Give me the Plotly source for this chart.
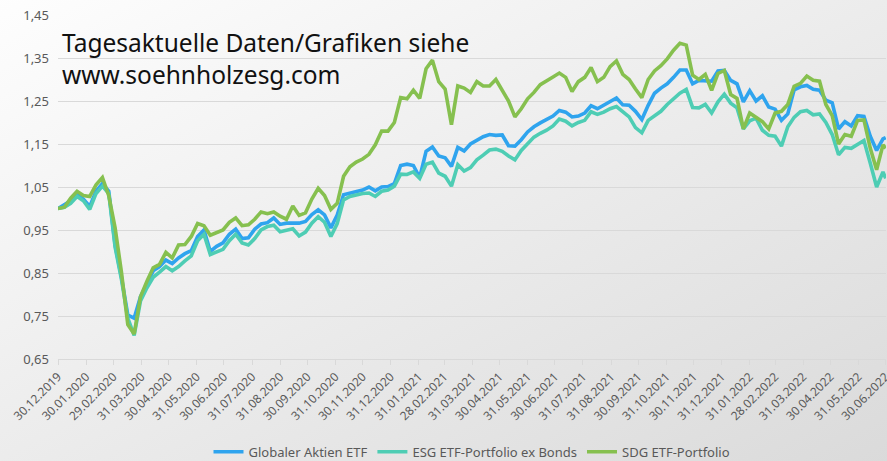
import base64
import pandas as pd
import plotly.graph_objects as go

# ----- data (weekly readings, index 1.00 = 30.12.2019)
dates = list(pd.date_range("2019-12-30", periods=131, freq="7D")) + [pd.Timestamp("2022-06-30")]

globaler_aktien = [
    1.000, 1.008, 1.018, 1.032, 1.022, 1.005, 1.040, 1.058, 1.040, 0.915,
    0.840, 0.752, 0.745, 0.795, 0.825, 0.855, 0.865, 0.880, 0.872, 0.885,
    0.895, 0.902, 0.935, 0.950, 0.900, 0.912, 0.920, 0.940, 0.952, 0.930,
    0.932, 0.952, 0.964, 0.967, 0.978, 0.963, 0.966, 0.965, 0.966, 0.970,
    0.986, 0.997, 0.985, 0.955, 0.985, 1.032, 1.036, 1.041, 1.043, 1.050,
    1.041, 1.050, 1.051, 1.058, 1.100, 1.103, 1.100, 1.072, 1.133, 1.143,
    1.122, 1.118, 1.098, 1.142, 1.134, 1.150, 1.158, 1.167, 1.172, 1.170,
    1.171, 1.146, 1.145, 1.160, 1.178, 1.190, 1.199, 1.207, 1.215, 1.228,
    1.224, 1.213, 1.215, 1.222, 1.239, 1.232, 1.240, 1.250, 1.257, 1.241,
    1.240, 1.226, 1.207, 1.240, 1.268, 1.280, 1.290, 1.305, 1.322, 1.322,
    1.290, 1.298, 1.298, 1.296, 1.320, 1.321, 1.298, 1.290, 1.248, 1.274,
    1.250, 1.262, 1.236, 1.231, 1.205, 1.220, 1.276, 1.283, 1.286, 1.277,
    1.275, 1.252, 1.246, 1.185, 1.202, 1.192, 1.216, 1.214, 1.168, 1.135,
    1.162, 1.165,
]

esg_ex_bonds = [
    1.000, 1.003, 1.012, 1.028, 1.018, 0.998, 1.035, 1.052, 1.035, 0.910,
    0.835, 0.745, 0.705, 0.785, 0.815, 0.840, 0.852, 0.865, 0.855, 0.865,
    0.878, 0.890, 0.925, 0.940, 0.893, 0.900, 0.905, 0.925, 0.940, 0.920,
    0.915, 0.930, 0.950, 0.958, 0.961, 0.946, 0.950, 0.953, 0.936, 0.945,
    0.966, 0.981, 0.968, 0.935, 0.965, 1.020, 1.028, 1.032, 1.035, 1.036,
    1.028, 1.040, 1.043, 1.052, 1.080, 1.079, 1.085, 1.070, 1.103, 1.108,
    1.082, 1.075, 1.052, 1.102, 1.087, 1.095, 1.113, 1.124, 1.136, 1.138,
    1.133, 1.122, 1.113, 1.135, 1.152, 1.166, 1.175, 1.182, 1.192, 1.208,
    1.203, 1.192, 1.200, 1.205, 1.225, 1.219, 1.224, 1.232, 1.237, 1.225,
    1.213, 1.188, 1.176, 1.205, 1.215, 1.226, 1.242, 1.256, 1.268, 1.277,
    1.235, 1.234, 1.242, 1.222, 1.248, 1.266, 1.245, 1.234, 1.185, 1.204,
    1.210, 1.182, 1.170, 1.168, 1.145, 1.190, 1.212, 1.225, 1.228, 1.218,
    1.220, 1.200, 1.172, 1.125, 1.142, 1.140, 1.150, 1.158, 1.105, 1.050,
    1.085, 1.070,
]

sdg_portfolio = [
    1.000, 1.003, 1.024, 1.040, 1.030, 1.028, 1.055, 1.072, 1.030, 0.955,
    0.852, 0.730, 0.708, 0.795, 0.830, 0.862, 0.870, 0.898, 0.885, 0.915,
    0.916, 0.935, 0.965, 0.960, 0.938, 0.944, 0.950, 0.968, 0.978, 0.960,
    0.962, 0.975, 0.992, 0.988, 0.992, 0.982, 0.975, 1.006, 0.984, 0.990,
    1.022, 1.047, 1.030, 0.998, 1.012, 1.075, 1.097, 1.108, 1.115, 1.126,
    1.148, 1.180, 1.180, 1.200, 1.258, 1.255, 1.275, 1.256, 1.325, 1.345,
    1.295, 1.278, 1.195, 1.285, 1.280, 1.270, 1.295, 1.285, 1.285, 1.300,
    1.275, 1.250, 1.213, 1.232, 1.255, 1.270, 1.288, 1.296, 1.306, 1.315,
    1.305, 1.272, 1.295, 1.305, 1.328, 1.295, 1.305, 1.330, 1.343, 1.312,
    1.300, 1.278, 1.258, 1.300, 1.320, 1.332, 1.348, 1.368, 1.384, 1.380,
    1.310, 1.300, 1.312, 1.275, 1.314, 1.321, 1.265, 1.256, 1.185, 1.222,
    1.212, 1.202, 1.185, 1.222, 1.226, 1.242, 1.284, 1.291, 1.308, 1.298,
    1.296, 1.242, 1.216, 1.150, 1.172, 1.168, 1.205, 1.206, 1.140, 1.090,
    1.148, 1.140,
]

tick_labels = [
    "30.12.2019", "30.01.2020", "29.02.2020", "31.03.2020", "30.04.2020", "31.05.2020",
    "30.06.2020", "31.07.2020", "31.08.2020", "30.09.2020", "31.10.2020", "30.11.2020",
    "31.12.2020", "31.01.2021", "28.02.2021", "31.03.2021", "30.04.2021", "31.05.2021",
    "30.06.2021", "31.07.2021", "31.08.2021", "30.09.2021", "31.10.2021", "30.11.2021",
    "31.12.2021", "31.01.2022", "28.02.2022", "31.03.2022", "30.04.2022", "31.05.2022",
    "30.06.2022",
]
tick_dates = pd.to_datetime(tick_labels, format="%d.%m.%Y")

series = [
    ("Globaler Aktien ETF", globaler_aktien, "#2fa4ee"),
    ("ESG ETF-Portfolio ex Bonds", esg_ex_bonds, "#4ecdb4"),
    ("SDG ETF-Portfolio", sdg_portfolio, "#86c04f"),
]

FONT = "Noto Sans"
GREY = "#595959"

fig = go.Figure()
for name, vals, col in series:
    fig.add_trace(go.Scatter(x=dates, y=vals, mode="lines", name=name,
                             line=dict(color=col, width=3.6)))

# soft grey gradient background like the office chart
svg = ('<svg xmlns="http://www.w3.org/2000/svg" width="200" height="200" preserveAspectRatio="none">'
       '<defs><linearGradient id="g" x1="0" y1="0" x2="1" y2="1">'
       '<stop offset="0" stop-color="#fefefe"/><stop offset="1" stop-color="#dadada"/>'
       '</linearGradient></defs><rect width="200" height="200" fill="url(#g)"/></svg>')
bg = "data:image/svg+xml;base64," + base64.b64encode(svg.encode()).decode()

fig.update_layout(
    width=887, height=461,
    margin=dict(l=58, r=1, t=15, b=102),
    paper_bgcolor="#eeeeee",
    plot_bgcolor="rgba(0,0,0,0)",
    separators=", ",
    font=dict(family=FONT, color=GREY, size=12),
    showlegend=True,
    legend=dict(orientation="h", x=0.5, xanchor="center",
                yref="container", y=0.02, yanchor="middle",
                font=dict(size=13, color=GREY), bgcolor="rgba(0,0,0,0)",
                itemwidth=30, tracegroupgap=0),
    images=[dict(source=bg, xref="paper", yref="paper", x=-0.08, y=1.06,
                 sizex=1.09, sizey=1.36, sizing="stretch", layer="below",
                 xanchor="left", yanchor="top")],
    annotations=[dict(text="Tagesaktuelle Daten/Grafiken siehe<br>www.soehnholzesg.com",
                      xref="paper", yref="paper", x=0.003, y=0.975,
                      xanchor="left", yanchor="top", align="left", showarrow=False,
                      font=dict(family=FONT, size=24.5, color="#111111"))],
)

fig.update_xaxes(
    range=[tick_dates[0], tick_dates[-1] + pd.Timedelta(hours=8)],
    tickvals=tick_dates, ticktext=tick_labels, tickangle=-45,
    tickfont=dict(size=12, color=GREY), ticklabeloverflow="allow",
    showgrid=False, zeroline=False,
    showline=True, linecolor="#d9d9d9", linewidth=1,
    ticks="outside", ticklen=5, tickcolor="#d9d9d9",
    automargin=False,
)
fig.update_yaxes(
    range=[0.65, 1.45], tick0=0.65, dtick=0.1, tickformat=".2f",
    tickfont=dict(size=13, color=GREY),
    showgrid=True, gridcolor="#d9d9d9", gridwidth=1.2,
    zeroline=False, showline=False, ticks="", ticklabelstandoff=8,
    automargin=False,
)

fig.write_html("out.html", config={"displayModeBar": False},
               post_script="document.body.style.margin='0';")
